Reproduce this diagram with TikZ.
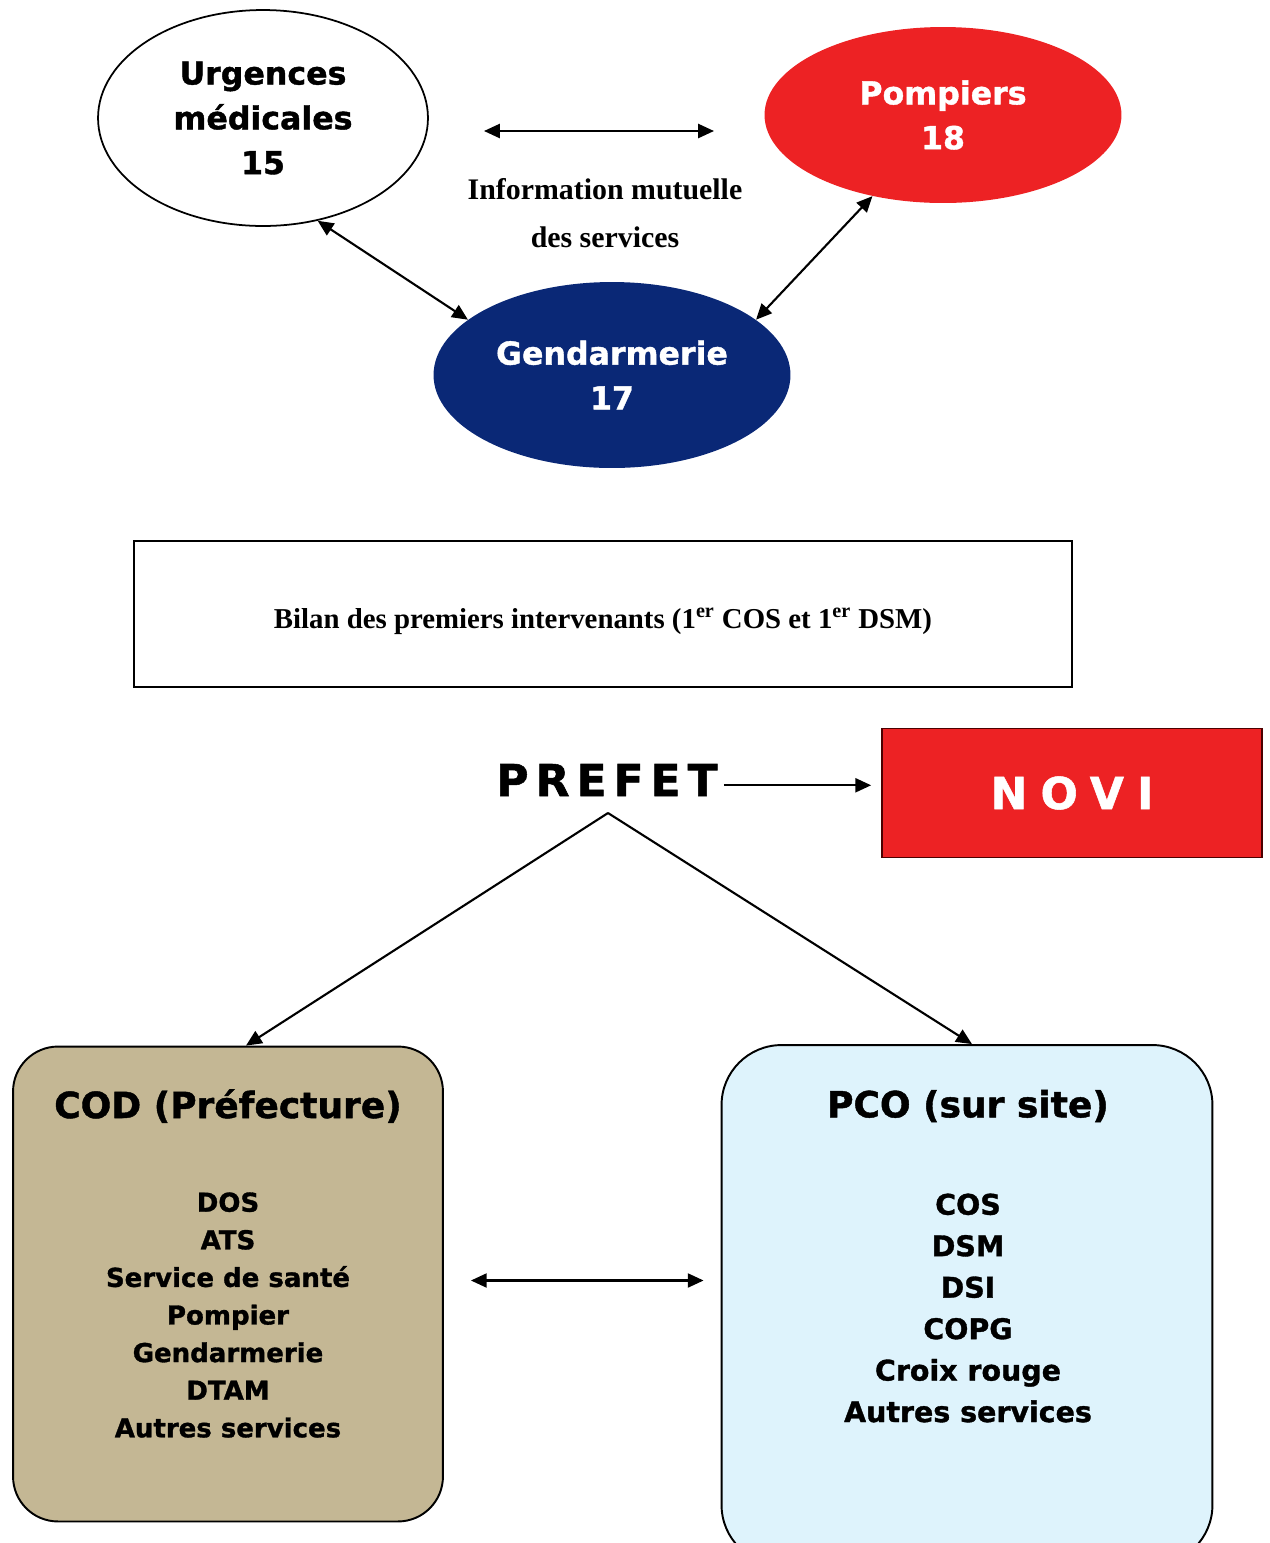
\documentclass[tikz,border=0pt]{standalone}
\usepackage{fontspec}
\setmainfont{Liberation Serif}
\newfontfamily\heavyfont{DejaVu Sans}[BoldFeatures={FakeBold=1.2}]
\usepackage{xcolor}
\usetikzlibrary{arrows.meta,positioning,shapes}

\definecolor{pompred}{RGB}{237,34,36}
\definecolor{gendblue}{RGB}{10,40,118}
\definecolor{codtan}{RGB}{196,183,148}
\definecolor{pcoblue}{RGB}{222,243,252}

\begin{document}
\begin{tikzpicture}[x=0.02cm, y=-0.02cm,
  service/.style={ellipse, inner sep=0pt, align=center,
    font=\heavyfont\bfseries\fontsize{18}{25.5}\selectfont},
  cell/.style={draw, line width=1.1pt, rounded corners=0.9cm},
  celltitle/.style={font=\heavyfont\bfseries\fontsize{20.5}{24}\selectfont},
  link/.style={line width=1.2pt, >={Triangle[length=9pt,width=8pt]}},
  wide/.style={font=\heavyfont\bfseries\fontsize{25}{30}\selectfont}
]
\useasboundingbox (0,0) rectangle (1269,1543);

% les trois services
\node [service, draw, line width=1pt, fill=white, minimum width=6.6cm, minimum height=4.32cm] (urgences) at (263,118) {Urgences\\médicales\\15};
\node [service, fill=pompred, text=white, minimum width=7.14cm, minimum height=3.52cm] (pompiers) at (943,115) {Pompiers\\18};
\node [service, fill=gendblue, text=white, minimum width=7.14cm, minimum height=3.72cm] (gendarmerie) at (612,375) {Gendarmerie\\17};

\coordinate (infoL) at (484,131);
\coordinate (infoR) at (714,131);
\node [align=center, font=\bfseries\fontsize{17}{27.5}\selectfont] (info) at (605,213) {Information mutuelle\\des services};

\path [link, <->] (infoL) edge (infoR);
\path [link, <->] (urgences.-62) edge (gendarmerie.159);
\path [link, <->] (gendarmerie.21) edge (pompiers.-131);

% bilan
\node [draw, line width=0.8pt, minimum width=18.76cm, minimum height=2.92cm] (bilan) at (603,614) {};
\node [font=\bfseries\fontsize{16.4}{20}\selectfont] (bilantext) at (603,621)
  {Bilan des premiers intervenants (1\textsuperscript{er} COS et 1\textsuperscript{er} DSM)};

% prefet et novi
\node [wide] (prefet) at (607,780) {\addfontfeature{LetterSpace=16}PREFET};
\node [draw=black!70!red, line width=1pt, fill=pompred, text=white, wide,
  minimum width=7.6cm, minimum height=2.58cm] (novi) at (1072,793) {\addfontfeature{LetterSpace=30}NOVI};
\path [link, ->, shorten >=0.2cm] ([yshift=-3pt]prefet.east) edge ([yshift=-3pt]prefet.east -| novi.west);

% COD et PCO
\node [cell, fill=codtan, minimum width=8.6cm, minimum height=9.5cm] (cod) at (228,1284) {};
\node [cell, rounded corners=1.2cm, fill=pcoblue, minimum width=9.82cm, minimum height=10.4cm] (pco) at (967,1305) {};

\node [celltitle] (codtitle) at (228,1106) {COD (Préfecture)};
\node [align=center, font=\heavyfont\bfseries\fontsize{14.8}{21.4}\selectfont] (codlist) at (228,1315)
  {DOS\\ATS\\Service de santé\\Pompier\\Gendarmerie\\DTAM\\Autres services};
\node [celltitle] (pcotitle) at (968,1106) {PCO (sur site)};
\node [align=center, font=\heavyfont\bfseries\fontsize{16.2}{23.6}\selectfont] (pcolist) at (968,1308)
  {COS\\DSM\\DSI\\COPG\\Croix rouge\\Autres services};

\coordinate (apex) at (608,813);
\path [link, ->] (apex) edge ([xshift=0.36cm]cod.north);
\path [link, ->] (apex) edge ([xshift=0.1cm]pco.north);
\path [link, <->] ([xshift=0.54cm, yshift=2pt]cod.east) edge ([xshift=-0.34cm, yshift=2pt]cod.east -| pco.west);
\end{tikzpicture}
\end{document}
